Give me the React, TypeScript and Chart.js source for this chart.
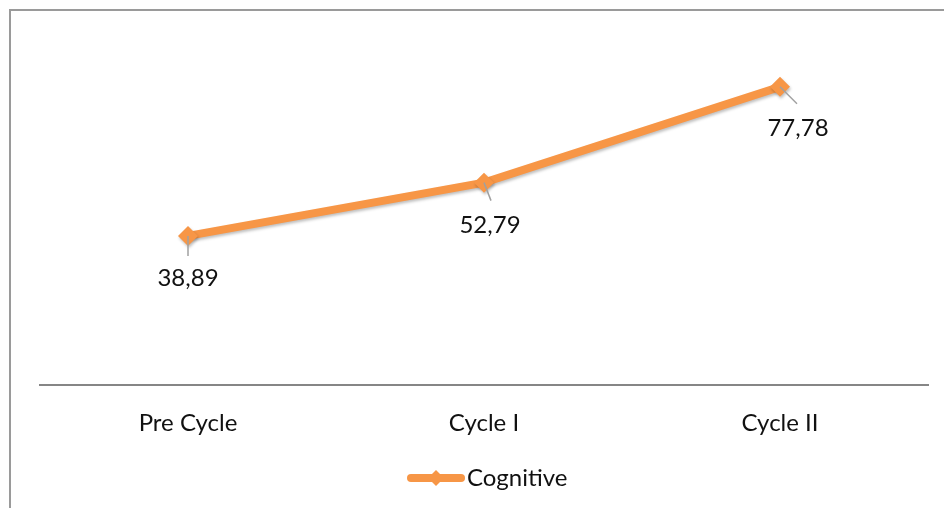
import React, { useEffect, useRef } from "react";
import { Chart, registerables } from "chart.js";

Chart.register(...registerables);

const categories = ["Pre Cycle", "Cycle I", "Cycle II"];
const seriesName = "Cognitive";
const cognitiveScores = [38.89, 52.79, 77.78];
const valueLabels = ["38,89", "52,79", "77,78"];

const ORANGE = "#F79646";
const FONT = "Lato, 'Open Sans', sans-serif";
const FONT_SIZE = 24;

// label placement relative to each point: [dx, dy] of text centre, [dx, dy] of leader end
const labelOffsets = [
  { text: [0, 42], leader: [0, 20] },
  { text: [6, 43], leader: [7, 18] },
  { text: [18, 41], leader: [17, 17] },
];

const decorPlugin = {
  id: "decor",
  beforeDatasetsDraw(chart: any) {
    const ctx = chart.ctx;
    ctx.save();
    ctx.shadowColor = "rgba(0,0,0,0.25)";
    ctx.shadowBlur = 3;
    ctx.shadowOffsetX = 1;
    ctx.shadowOffsetY = 2;
  },
  afterDatasetsDraw(chart: any) {
    chart.ctx.restore();
  },
  afterDraw(chart: any) {
    const ctx = chart.ctx;
    const w = chart.width;
    const h = chart.height;
    ctx.save();
    // outer frame (top and left edges)
    ctx.strokeStyle = "#9a9a9a";
    ctx.lineWidth = 2;
    ctx.beginPath();
    ctx.moveTo(w, 10);
    ctx.lineTo(10, 10);
    ctx.lineTo(10, h);
    ctx.stroke();

    // data labels with leader lines
    const meta = chart.getDatasetMeta(0);
    ctx.font = `${FONT_SIZE}px ${FONT}`;
    ctx.fillStyle = "#111";
    ctx.textAlign = "center";
    ctx.textBaseline = "middle";
    meta.data.forEach((pt: any, i: number) => {
      const o = labelOffsets[i];
      ctx.strokeStyle = "#a0a0a0";
      ctx.lineWidth = 1.5;
      ctx.beginPath();
      ctx.moveTo(pt.x, pt.y);
      ctx.lineTo(pt.x + o.leader[0], pt.y + o.leader[1]);
      ctx.stroke();
      ctx.fillText(valueLabels[i], pt.x + o.text[0], pt.y + o.text[1]);
    });

    // legend
    const ds = chart.data.datasets[0];
    const ly = 478;
    const lx0 = 407;
    const lx1 = 465;
    ctx.strokeStyle = ORANGE;
    ctx.lineWidth = 8;
    ctx.lineCap = "round";
    ctx.beginPath();
    ctx.moveTo(lx0 + 4, ly);
    ctx.lineTo(lx1 - 4, ly);
    ctx.stroke();
    const cx = (lx0 + lx1) / 2;
    const r = 8;
    ctx.fillStyle = ORANGE;
    ctx.beginPath();
    ctx.moveTo(cx, ly - r);
    ctx.lineTo(cx + r, ly);
    ctx.lineTo(cx, ly + r);
    ctx.lineTo(cx - r, ly);
    ctx.closePath();
    ctx.fill();
    ctx.fillStyle = "#111";
    ctx.textAlign = "left";
    ctx.fillText(ds.label, lx1 + 2, ly);
    ctx.restore();
  },
};

export default function App() {
  const canvasRef = useRef<HTMLCanvasElement | null>(null);

  useEffect(() => {
    if (!canvasRef.current) return;
    const chart = new Chart(canvasRef.current, {
      type: "line",
      data: {
        labels: categories,
        datasets: [
          {
            label: seriesName,
            data: cognitiveScores,
            borderColor: ORANGE,
            backgroundColor: ORANGE,
            borderWidth: 8,
            pointStyle: "rectRot",
            pointRadius: 10,
            pointBorderWidth: 0,
            pointBackgroundColor: ORANGE,
            tension: 0,
          },
        ],
      },
      options: {
        responsive: false,
        animation: false,
        layout: { padding: { left: 40, right: 16, top: 40, bottom: 0 } },
        plugins: {
          legend: { display: false },
          tooltip: { enabled: false },
        },
        scales: {
          x: {
            offset: true,
            grid: { display: false, drawTicks: false },
            border: { display: true, color: "#868686", width: 2 },
            ticks: {
              color: "#111",
              font: { family: FONT, size: FONT_SIZE },
              padding: 24,
            },
            afterFit: (s: any) => {
              s.height = 123;
            },
          },
          y: {
            display: false,
            min: 0,
            max: 90,
          },
        },
      },
      plugins: [decorPlugin],
    });
    return () => chart.destroy();
  }, []);

  return (
    <div style={{ position: "fixed", left: 0, top: 0, width: 944, height: 508, background: "#fff" }}>
      <canvas ref={canvasRef} width={944} height={508} style={{ display: "block" }} />
    </div>
  );
}
